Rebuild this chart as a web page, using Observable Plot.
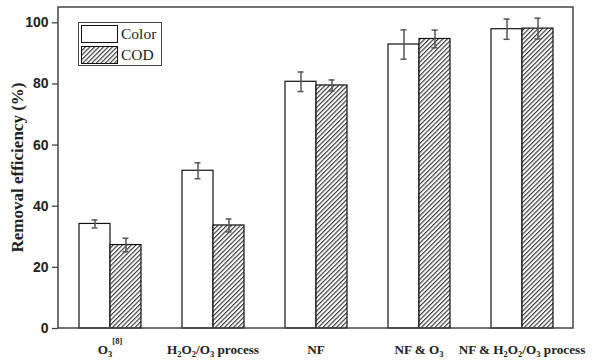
<!DOCTYPE html>
<html><head><meta charset="utf-8">
<script src="https://cdn.jsdelivr.net/npm/d3@7"></script>
<script src="https://cdn.jsdelivr.net/npm/@observablehq/plot@0.6"></script>
<style>
body{margin:0;background:#fff;}
#wrap{position:relative;width:593px;height:361px;}
#legend{position:absolute;left:78px;top:22px;width:84px;height:44px;border:1.3px solid #444;background:#fff;font-family:"Liberation Serif",serif;font-size:15.5px;color:#222;box-sizing:border-box;}
#legend .row{display:flex;align-items:center;height:20px;margin-top:1px;}
#legend svg{margin-left:2px;margin-right:3px;}
</style>
</head><body>
<div id="wrap"></div>
<script>
const categories = ["O3[8]", "H2O2/O3 process", "NF", "NF & O3", "NF & H2O2/O3 process"];
const series = ["Color", "COD"];
const colorValues = [34.2, 51.6, 80.7, 92.9, 97.9];
const colorErrors = [1.3, 2.6, 3.2, 4.8, 3.3];
const codValues = [27.3, 33.7, 79.5, 94.7, 98.1];
const codErrors = [2.2, 2.1, 1.8, 2.9, 3.4];
const yTicks = [0, 20, 40, 60, 80, 100];

const data = [];
categories.forEach((c, i) => {
  data.push({cat: c, series: "Color", value: colorValues[i], err: colorErrors[i]});
  data.push({cat: c, series: "COD", value: codValues[i], err: codErrors[i]});
});

const chart = Plot.plot({
  width: 593, height: 361,
  marginLeft: 58, marginRight: 20, marginTop: 7, marginBottom: 33,
  style: {background: "#fff", color: "#222"},
  fx: {domain: categories, padding: 0, label: null, tickSize: 0, axis: "bottom", tickPadding: 16},
  x: {domain: series, axis: null, paddingInner: 0, paddingOuter: 0.66},
  y: {domain: [0, 105], ticks: yTicks, label: null, tickSize: 6, tickPadding: 4},
  marks: [
    Plot.barY(data.filter(d => d.series === "Color"), {fx: "cat", x: "series", y: "value", fill: "white", stroke: "#111", strokeWidth: 1.2}),
    Plot.barY(data.filter(d => d.series === "COD"), {fx: "cat", x: "series", y: "value", fill: "url(#hatch)", stroke: "#111", strokeWidth: 1.2}),
    Plot.ruleX(data, {fx: "cat", x: "series", y1: d => d.value - d.err, y2: d => d.value + d.err, stroke: "#555", strokeWidth: 1.5}),
    Plot.tickY(data, {fx: "cat", x: "series", y: d => d.value - d.err, stroke: "#555", strokeWidth: 1.5, insetLeft: 12.5, insetRight: 12.5}),
    Plot.tickY(data, {fx: "cat", x: "series", y: d => d.value + d.err, stroke: "#555", strokeWidth: 1.5, insetLeft: 12.5, insetRight: 12.5})
  ]
});

const svg = d3.select(chart);
// hatch pattern
const defs = svg.insert("defs", ":first-child");
const pat = defs.append("pattern").attr("id", "hatch").attr("patternUnits", "userSpaceOnUse")
  .attr("width", 3.2).attr("height", 3.2).attr("patternTransform", "rotate(45)");
pat.append("rect").attr("width", 3.2).attr("height", 3.2).attr("fill", "white");
pat.append("line").attr("x1", 0.6).attr("y1", 0).attr("x2", 0.6).attr("y2", 3.2).attr("stroke", "#1a1a1a").attr("stroke-width", 1.0);

// frame from scales
const ys = chart.scale("y"), fxs = chart.scale("fx");
const x0 = fxs.range[0], x1 = fxs.range[1];
const yTop = ys.range[1], yBot = ys.range[0];
svg.append("rect").attr("x", x0).attr("y", yTop).attr("width", x1 - x0).attr("height", yBot - yTop)
  .attr("fill", "none").attr("stroke", "#444").attr("stroke-width", 1.5);

svg.selectAll("[aria-label='y-axis tick label'] text, [aria-label='y-axis'] text")
  .attr("font-family", "'Liberation Sans', Arial, sans-serif").attr("font-weight", "bold").attr("font-size", 14);
svg.selectAll("[aria-label='y-axis tick'] path, [aria-label='y-axis'] path").attr("stroke", "#444").attr("stroke-width", 1.3);

// fx labels with sub/superscripts
const rich = {
  "O3[8]": [["O",""],["3","sub"],["[8]","sup"]],
  "H2O2/O3 process": [["H",""],["2","sub"],["O",""],["2","sub"],["/O",""],["3","sub"],[" process",""]],
  "NF": [["NF",""]],
  "NF & O3": [["NF & O",""],["3","sub"]],
  "NF & H2O2/O3 process": [["NF & H",""],["2","sub"],["O",""],["2","sub"],["/O",""],["3","sub"],[" process",""]]
};
svg.selectAll("[aria-label='fx-axis tick label'] text, [aria-label='fx-axis'] text").each(function() {
  const t = d3.select(this);
  const key = t.text();
  if (!rich[key]) return;
  t.text("").attr("font-family", "'Liberation Serif', 'Times New Roman', serif").attr("font-weight", "bold").attr("font-size", 13.2);
  let shift = 0;
  rich[key].forEach(([s, k]) => {
    const sp = t.append("tspan").text(s);
    if (k === "sub") { sp.attr("font-size", 8.5).attr("dy", 3.5 - shift); shift = 3.5; }
    else if (k === "sup") { sp.attr("font-size", 8.5).attr("dy", -10 - shift); shift = -10; }
    else { sp.attr("dy", -shift); shift = 0; }
  });
});

// y label
svg.append("text").attr("transform", `translate(17,${(yTop + yBot) / 2}) rotate(-90)`)
  .attr("text-anchor", "middle").attr("dy", "0.35em").attr("font-family", "'Liberation Serif', 'Times New Roman', serif")
  .attr("font-weight", "bold").attr("font-size", 17).attr("fill", "#222").text("Removal efficiency (%)");

const wrap = document.getElementById("wrap");
wrap.appendChild(chart);

// legend
const leg = document.createElement("div");
leg.id = "legend";
leg.innerHTML = `
<div class="row"><svg width="37" height="18"><rect x="0.5" y="0.5" width="36" height="17" fill="white" stroke="#111"/></svg>${series[0]}</div>
<div class="row"><svg width="37" height="18"><defs><pattern id="hatch2" patternUnits="userSpaceOnUse" width="3.2" height="3.2" patternTransform="rotate(45)"><rect width="3.2" height="3.2" fill="white"/><line x1="0.6" y1="0" x2="0.6" y2="3.2" stroke="#1a1a1a" stroke-width="1.0"/></pattern></defs><rect x="0.5" y="0.5" width="36" height="17" fill="url(#hatch2)" stroke="#111"/></svg>${series[1]}</div>`;
wrap.appendChild(leg);
</script>
</body></html>
